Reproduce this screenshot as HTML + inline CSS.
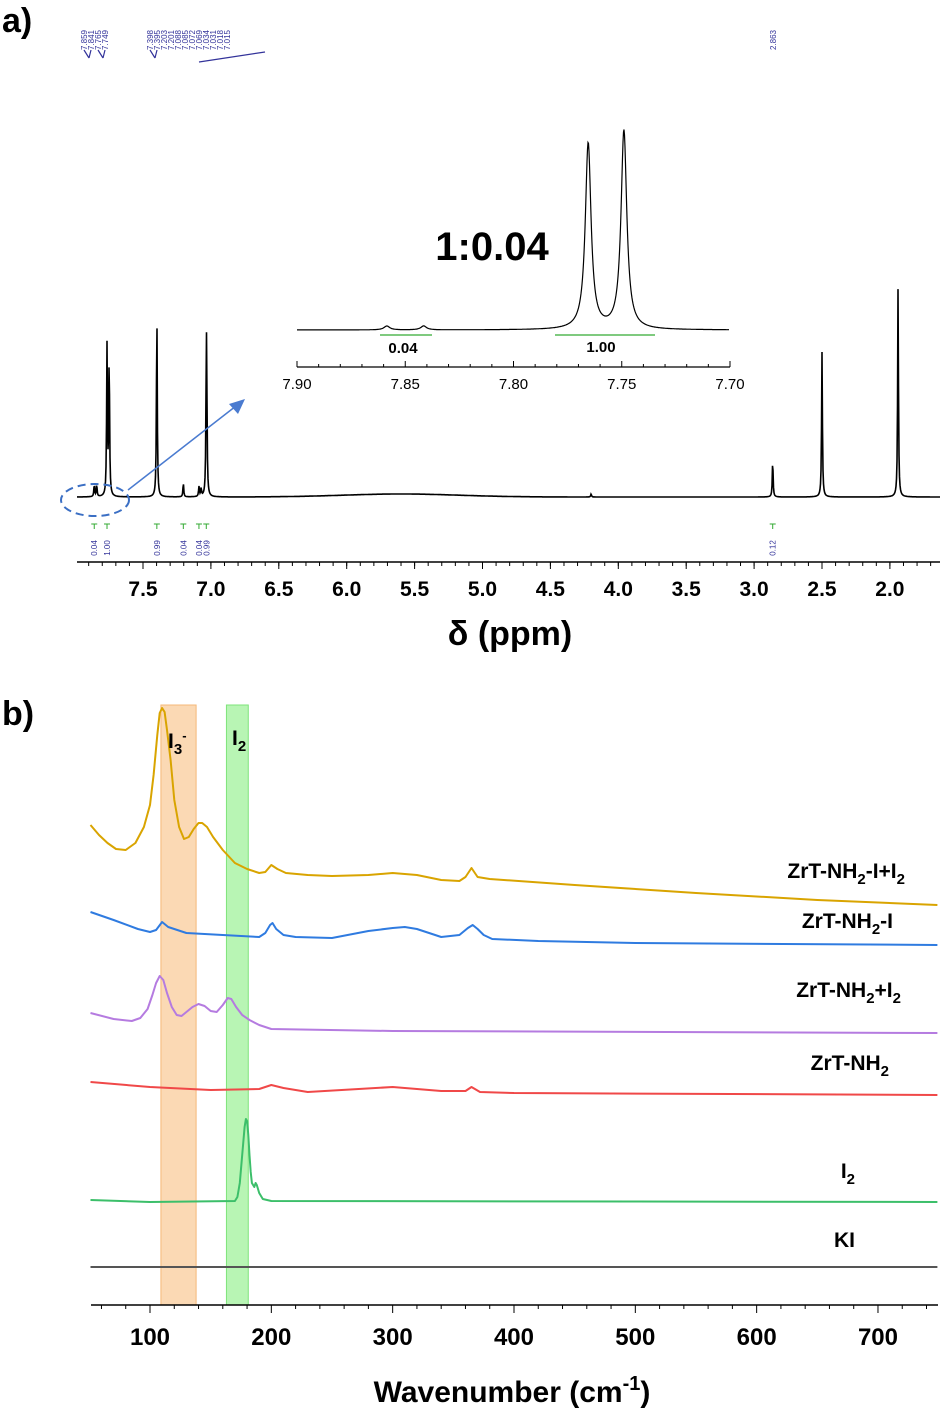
<!DOCTYPE html>
<html><head><meta charset="utf-8"><style>
html,body{margin:0;padding:0;background:#fff}
svg{display:block}
text{font-family:"Liberation Sans",Arial,sans-serif}
</style></head><body>
<svg id="fig" width="945" height="1415" viewBox="0 0 945 1415" xmlns="http://www.w3.org/2000/svg">
<text x="2" y="32" font-size="34" font-weight="bold">a)</text>
<text x="2" y="725" font-size="34" font-weight="bold">b)</text>
<g id="nmr"></g>
<g id="inset"></g>
<g id="raman"></g>
</svg>
<script>
// ---- NMR data ----
const nmrPeakPpm = [7.859, 7.841, 7.765, 7.749, 7.398, 7.395, 7.203, 7.088, 7.072, 7.034, 7.031, 7.018, 2.863, 2.50, 1.94, 4.20];
const nmrPeakHeight = [12, 12, 150, 140, 185, 0, 14, 10, 8, 100, 95, 0, 37, 145, 210, 3];
const nmrTicks = [7.5, 7.0, 6.5, 6.0, 5.5, 5.0, 4.5, 4.0, 3.5, 3.0, 2.5, 2.0];
const nmrIntegralPpm = [7.859, 7.765, 7.398, 7.203, 7.088, 7.034, 2.863];
const nmrIntegralLabels = ["0.04", "1.00", "0.99", "0.04", "0.04", "0.99", "0.12"];
const nmrShiftLabels = ["7.859","7.841","7.765","7.749","7.398","7.395","7.203","7.201","7.088","7.085","7.072","7.069","7.034","7.031","7.018","7.015"];
// ---- Inset data ----
const insetPeakPpm = [7.8585, 7.8415, 7.7655, 7.7490];
const insetPeakHeight = [4, 4, 190, 203];
const insetTicks = [7.90, 7.85, 7.80, 7.75, 7.70];
// ---- Raman data ----
const ramanTicks = [100, 200, 300, 400, 500, 600, 700];
const wnGold = [51,58,65,72,80,88,95,100,103,106,108,110,112,114,117,120,124,128,132,136,140,143,147,152,160,170,180,190,195,200,205,212,230,250,280,300,320,340,355,360,365,370,380,450,550,650,749];
const gold = [480,470,462,456,455,462,478,500,530,570,592,597,593,575,545,505,478,466,468,476,482,482,478,468,455,442,436,432,433,440,436,432,430,429,430,432,430,425,424,428,437,428,426,420,412,405,400];
const wnBlue = [51,70,90,100,105,110,115,130,160,190,195,199,201,204,210,220,250,280,300,310,320,330,340,355,362,366,370,375,382,420,500,749];
const blue = [393,385,376,373,375,383,378,372,370,368,372,380,382,376,370,368,367,374,377,378,376,372,368,370,377,380,376,370,366,364,362,360];
const wnPurple = [51,70,85,92,98,102,105,108,111,114,118,122,126,130,135,140,145,150,155,160,164,167,171,176,182,190,200,300,749];
const purple = [292,286,284,287,296,310,322,329,325,312,298,290,289,293,298,301,299,294,293,300,307,306,298,290,285,280,276,274,272];
const wnRed = [51,100,150,190,200,210,230,300,340,360,365,372,400,749];
const red = [223,218,215,216,220,217,213,218,214,214,218,213,212,210];
const wnGreen = [51,100,170,172,174,176,178,179,180,181,182,183,184,186,187,188,190,193,200,749];
const green = [105,103,104,108,122,150,178,186,184,170,150,133,122,118,122,120,112,106,104,103];
const wnKI = [51,749];
const kiVals = [38,38];

const NS="http://www.w3.org/2000/svg";
function mk(parent,tag,attrs,txt){const e=document.createElementNS(NS,tag);for(const k in attrs)e.setAttribute(k,attrs[k]);if(txt!==undefined)e.textContent=txt;parent.appendChild(e);return e;}

// NMR main
const nmr=document.getElementById('nmr');
const px=p=>143+(7.5-p)*135.8;
const nBase=497;
function lor(p,peaks,hs,w){let s=0;for(let i=0;i<peaks.length;i++){const d=(p-peaks[i])/w;s+=hs[i]/(1+d*d);}return s;}
let d="";
for(let x=77;x<=940;x+=0.5){const p=7.5-(x-143)/135.8;let v=lor(p,nmrPeakPpm,nmrPeakHeight,0.0035);
 v+=3*Math.exp(-Math.pow((p-5.6)/0.6,2));
 d+=(d?"L":"M")+x.toFixed(1)+","+(nBase-v).toFixed(1);}
let sp=mk(nmr,'path',{d:d,fill:'none',stroke:'#000','stroke-width':1.6});


mk(nmr,'line',{x1:77,y1:562,x2:940,y2:562,stroke:'#000','stroke-width':1.5});
for(let p=7.9;p>=1.65;p-=0.1){const x=px(p);mk(nmr,'line',{x1:x,y1:562,x2:x,y2:566,stroke:'#000'});}
nmrTicks.forEach(t=>{const x=px(t);mk(nmr,'line',{x1:x,y1:562,x2:x,y2:569,stroke:'#000'});
 const tl=mk(nmr,'text',{x:x,y:596,'font-size':21,'font-weight':'bold','text-anchor':'middle'},t.toFixed(1));
 
 });
let at=mk(nmr,'text',{x:510,y:645,'font-size':34,'font-weight':'bold','text-anchor':'middle'},"δ (ppm)");


nmrIntegralPpm.forEach((p,i)=>{const x=px(p);mk(nmr,'path',{d:`M${x-3},524h6M${x},524v5`,stroke:'#3a3',fill:'none','stroke-width':1});
 const t=mk(nmr,'text',{x:0,y:0,'font-size':8,fill:'#33339a',transform:`translate(${x+3},${548}) rotate(-90)`,'text-anchor':'middle'},nmrIntegralLabels[i]);
 
 });
const lx0=[84,91,98,105, 150,157,164,171,178,185,192,199,206,213,220,227];
nmrShiftLabels.forEach((s,i)=>{const t=mk(nmr,'text',{x:0,y:0,'font-size':8,fill:'#33339a',transform:`translate(${lx0[i]+3},${30}) rotate(-90)`,'text-anchor':'end'},s);
 
 });
mk(nmr,'path',{d:"M84,50l5,8M91,50l-2,8M98,50l5,8M105,50l-2,8M150,50l5,8M157,50l-2,8M199,62L265,52",stroke:'#33339a',fill:'none','stroke-width':1.2});
let t28=mk(nmr,'text',{x:0,y:0,'font-size':8,fill:'#33339a',transform:'translate(776,30) rotate(-90)','text-anchor':'end'},"2.863");


mk(nmr,'ellipse',{cx:95,cy:500,rx:34,ry:16,fill:'none',stroke:'#3b6fc4','stroke-width':2,'stroke-dasharray':'8,5'});
mk(nmr,'line',{x1:128,y1:490,x2:236,y2:406,stroke:'#4a7bd0','stroke-width':1.5});
mk(nmr,'polygon',{points:"245,399 229,404 238,414",fill:'#4a7bd0'});

// Inset
const ins=document.getElementById('inset');
const ix=p=>297+(7.90-p)*2165;
const iBase=330;
let d2="";
for(let x=297;x<=729;x+=0.5){const p=7.90-(x-297)/2165;const v=lor(p,insetPeakPpm,insetPeakHeight,0.0016);
 d2+=(d2?"L":"M")+x.toFixed(1)+","+(iBase-v*0.98).toFixed(1);}
let ip=mk(ins,'path',{d:d2,fill:'none',stroke:'#000','stroke-width':1.2});


mk(ins,'line',{x1:380,y1:335,x2:432,y2:335,stroke:'#3a3','stroke-width':1.3});
mk(ins,'line',{x1:555,y1:335,x2:655,y2:335,stroke:'#3a3','stroke-width':1.3});
mk(ins,'text',{x:403,y:353,'font-size':15,'font-weight':'bold','text-anchor':'middle'},"0.04");
mk(ins,'text',{x:601,y:352,'font-size':15,'font-weight':'bold','text-anchor':'middle'},"1.00");
mk(ins,'line',{x1:297,y1:367,x2:730,y2:367,stroke:'#000','stroke-width':1.2});
for(let i=0;i<=20;i++){const x=ix(7.90-i*0.01);mk(ins,'line',{x1:x,y1:367,x2:x,y2:i%5==0?361:364,stroke:'#000'});}
insetTicks.forEach(t=>{const tl=mk(ins,'text',{x:ix(t),y:389,'font-size':15,'text-anchor':'middle'},t.toFixed(2));
 
 });
let rt=mk(ins,'text',{x:492,y:260,'font-size':40,'font-weight':'bold','text-anchor':'middle'},"1:0.04");



// Raman
const ram=document.getElementById('raman');
const rx=w=>150+(w-100)*1.2133;
const ry=v=>1305-v;
let b1=mk(ram,'rect',{x:rx(109),y:705,width:rx(138)-rx(109),height:600,fill:'#fbd9b4',stroke:'#f5b878','stroke-width':1});


let b2=mk(ram,'rect',{x:rx(163),y:705,width:rx(181)-rx(163),height:600,fill:'#b8f5b4',stroke:'#7ee47a','stroke-width':1});


const series=[[wnGold,gold,'#d9a400'],[wnBlue,blue,'#2f7be0'],[wnPurple,purple,'#b57be0'],[wnRed,red,'#f04848'],[wnGreen,green,'#3cbf6a'],[wnKI,kiVals,'#555']];
series.forEach((s,k)=>{const pts=s[0].map((w,i)=>rx(w).toFixed(1)+","+ry(s[1][i]).toFixed(1)).join(" ");
 const p=mk(ram,'polyline',{points:pts,fill:'none',stroke:s[2],'stroke-width':2,'stroke-linejoin':'round'});
 
 });
const labHtml=[
 'ZrT-NH<tspan dy="6" font-size="15">2</tspan><tspan dy="-6">-I+I</tspan><tspan dy="6" font-size="15">2</tspan>',
 'ZrT-NH<tspan dy="6" font-size="15">2</tspan><tspan dy="-6">-I</tspan>',
 'ZrT-NH<tspan dy="6" font-size="15">2</tspan><tspan dy="-6">+I</tspan><tspan dy="6" font-size="15">2</tspan>',
 'ZrT-NH<tspan dy="6" font-size="15">2</tspan>',
 'I<tspan dy="6" font-size="15">2</tspan>',
 'KI'];
const labPos=[[905,878],[893,928],[901,997],[889,1070],[855,1178],[855,1247]];
labHtml.forEach((l,i)=>{const t=mk(ram,'text',{x:labPos[i][0],y:labPos[i][1],'font-size':21,'font-weight':'bold','text-anchor':'end'});
 t.innerHTML=l;
 
 });
let l1=mk(ram,'text',{x:168,y:748,'font-size':21,'font-weight':'bold'});l1.innerHTML='I<tspan dy="6" font-size="15">3</tspan><tspan dy="-14" font-size="13">-</tspan>';


let l2=mk(ram,'text',{x:232,y:745,'font-size':21,'font-weight':'bold'});l2.innerHTML='I<tspan dy="6" font-size="15">2</tspan>';


mk(ram,'line',{x1:91,y1:1305,x2:938,y2:1305,stroke:'#000','stroke-width':1.5});
for(let w=60;w<=740;w+=20){const x=rx(w);mk(ram,'line',{x1:x,y1:1305,x2:x,y2:w%100==0?1313:1309,stroke:'#000'});}
ramanTicks.forEach(t=>{const tl=mk(ram,'text',{x:rx(t),y:1345,'font-size':24,'font-weight':'bold','text-anchor':'middle'},t);
 
 });
let xt=mk(ram,'text',{x:512,y:1402,'font-size':30,'font-weight':'bold','text-anchor':'middle'});xt.innerHTML='Wavenumber (cm<tspan dy="-12" font-size="20">-1</tspan><tspan dy="12">)</tspan>';


</script>
</body></html>
